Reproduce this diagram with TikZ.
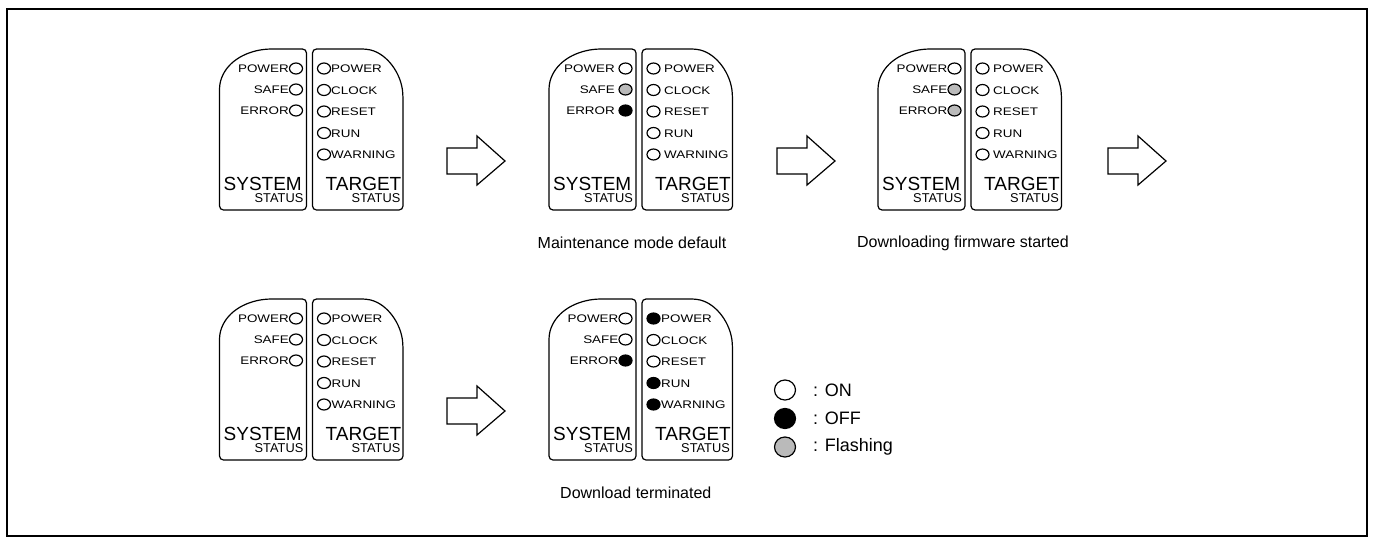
\documentclass[tikz,border=0pt]{standalone}
\usepackage{fontspec}
\setmainfont{Liberation Sans}
\newfontfamily\ledfont[FakeStretch=1.22]{Liberation Sans}
\usetikzlibrary{shapes.geometric}
\colorlet{ledw}{white}
\colorlet{ledk}{black}
\colorlet{ledg}{black!27}
\tikzset{
  panel/.style={draw, line width=1.2pt, rounded corners=4pt, fill=white},
  led/.style={ellipse, draw, line width=1.2pt, minimum width=13pt, minimum height=11pt, inner sep=0pt},
  legled/.style={led, minimum width=21pt, minimum height=20pt},
  ledlab/.style={font=\ledfont\fontsize{11}{12}\selectfont, inner sep=0pt},
  bigtxt/.style={font=\fontsize{19}{21}\selectfont, inner sep=0pt},
  smalltxt/.style={font=\fontsize{12.8}{14}\selectfont, inner sep=0pt},
  caption/.style={font=\fontsize{16}{19}\selectfont, inner sep=0pt},
  legtxt/.style={font=\fontsize{18}{20}\selectfont, inner sep=0pt},
  bigarrow/.style={draw, line width=1.2pt, fill=white},
  frame/.style={draw, line width=2pt}
}
% #1 name, #2 x, #3 y, #4 left states, #5 right states, #6 left gap, #7 right gap
\newcommand{\ledgroup}[7]{%
\begin{scope}[shift={(#2,#3)}]
  \draw[panel] (0,36) .. controls (6,14) and (24,3) .. (48,0) -- (87,0) -- (87,161) -- (0,161) -- cycle;
  \draw[panel] (93,0) -- (147,0) .. controls (168,5) and (182,25) .. (183.5,48) -- (183.5,161) -- (93,161) -- cycle;
  \foreach \st [count=\i] in {#4} {
    \pgfmathsetmacro\yy{19.5+21*(\i-1)}
    \node[led, fill=led\st] (#1-l\i) at (76.5,\yy) {};
    \node[ledlab, anchor=base east] (#1-lt\i) at (70-#6,\yy+4)
      {\ifcase\i\or POWER\or SAFE\or ERROR\fi};
  }
  \foreach \st [count=\i] in {#5} {
    \pgfmathsetmacro\yy{19.5+21.5*(\i-1)}
    \node[led, fill=led\st] (#1-r\i) at (104.5,\yy) {};
    \node[ledlab, anchor=base west] (#1-rt\i) at (111+#7,\yy+4)
      {\ifcase\i\or POWER\or CLOCK\or RESET\or RUN\or WARNING\fi};
  }
  \node[bigtxt, anchor=base east] (#1-sys) at (82.5,141) {SYSTEM};
  \node[smalltxt, anchor=base east] (#1-sys2) at (84,153) {STATUS};
  \node[bigtxt, anchor=base east] (#1-tgt) at (182,141) {TARGET};
  \node[smalltxt, anchor=base east] (#1-tgt2) at (181,153) {STATUS};
\end{scope}}
\newcommand{\flowarrow}[2]{%
  \draw[bigarrow] (#1,#2-13) -- (#1+30,#2-13) -- (#1+30,#2-25) -- (#1+58,#2) -- (#1+30,#2+24) -- (#1+30,#2+13) -- (#1,#2+13) -- cycle;}
\begin{document}
\begin{tikzpicture}[x=1pt,y=-1pt]
\useasboundingbox (0,0) rectangle (1373,544);
\draw[frame] (6.5,8.5) rectangle (1366.5,535.5);

\ledgroup{ga}{219.5}{49}{w,w,w}{w,w,w,w,w}{0.5}{0.5}
\ledgroup{gb}{549}{49}{w,g,k}{w,w,w,w,w}{4}{4}
\ledgroup{gc}{878}{49}{w,g,g}{w,w,w,w,w}{0.5}{4}
\ledgroup{gd}{219.5}{299}{w,w,w}{w,w,w,w,w}{0.5}{1}
\ledgroup{ge}{549}{299}{w,w,k}{k,w,w,k,k}{0.5}{1}

\flowarrow{447}{161}
\flowarrow{777}{161}
\flowarrow{1108}{161}
\flowarrow{447}{411}

\node[caption] (capb) at (632,243) {Maintenance mode default};
\node[caption] (capc) at (963,243) {Downloading firmware started};
\node[caption, anchor=west] (cape) at (560,493) {Download terminated};

\node[legled, fill=ledw] (leg-on) at (785,390) {};
\node[legled, fill=ledk] (leg-off) at (785,418.5) {};
\node[legled, fill=ledg] (leg-fl) at (785,447) {};
\node[legtxt, anchor=west] (leg-on-t) at (813,390) {: ON};
\node[legtxt, anchor=west] (leg-off-t) at (813,418.5) {: OFF};
\node[legtxt, anchor=west] (leg-fl-t) at (813,447) {: Flashing};
\end{tikzpicture}
\end{document}
